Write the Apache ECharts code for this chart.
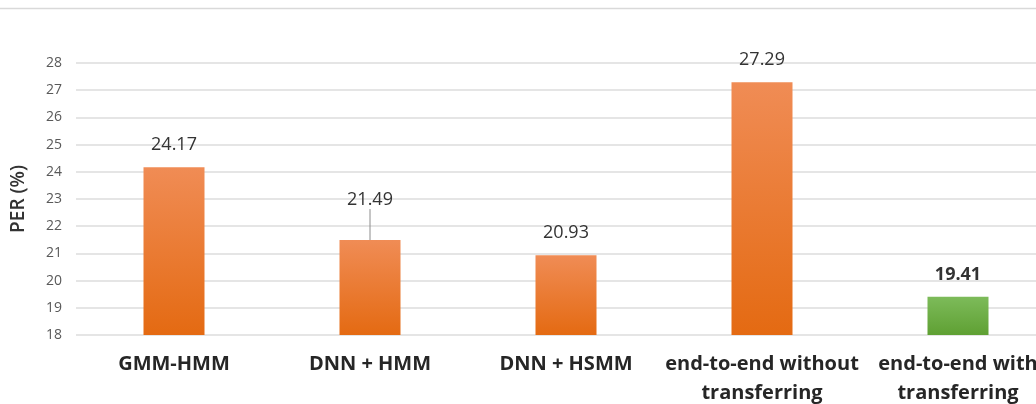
<!DOCTYPE html>
<html>
<head>
<meta charset="utf-8">
<script src="https://cdn.jsdelivr.net/npm/echarts@6/dist/echarts.min.js"></script>
<style>
  html, body { margin: 0; padding: 0; background: #fff; }
  #chart { width: 1036px; height: 404px; }
</style>
</head>
<body>
<div id="chart"></div>
<script>
const categories = ['GMM-HMM', 'DNN + HMM', 'DNN + HSMM', 'end-to-end without\ntransferring', 'end-to-end with\ntransferring'];
const perValues = [24.17, 21.49, 20.93, 27.29, 19.41];
const yTicks = { min: 18, max: 28, step: 1 };

const orange = new echarts.graphic.LinearGradient(0, 0, 0, 1, [
  { offset: 0, color: '#F08C55' },
  { offset: 1, color: '#E46A12' }
]);
const green = new echarts.graphic.LinearGradient(0, 0, 0, 1, [
  { offset: 0, color: '#7DBB5A' },
  { offset: 1, color: '#5FA033' }
]);

const el = document.getElementById('chart');
const chart = echarts.init(el);

chart.setOption({
  animation: false,
  textStyle: { fontFamily: '"Open Sans", sans-serif' },
  graphic: [{
    type: 'line',
    shape: { x1: 0, y1: 8.5, x2: 1036, y2: 8.5 },
    style: { stroke: '#D9D9D9', lineWidth: 1.5 }
  }],
  grid: { left: 76, top: 63, width: 980, height: 272, outerBoundsMode: 'none', containLabel: false },
  xAxis: {
    type: 'category',
    data: categories,
    axisLine: { show: false },
    axisTick: { show: false },
    axisLabel: {
      interval: 0,
      margin: 15,
      color: '#262626',
      fontSize: 20,
      fontWeight: 'bold',
      lineHeight: 29
    }
  },
  yAxis: {
    type: 'value',
    min: yTicks.min,
    max: yTicks.max,
    interval: yTicks.step,
    name: 'PER (%)',
    nameLocation: 'middle',
    nameGap: 48,
    nameTextStyle: { color: '#333333', fontSize: 19, fontWeight: 600 },
    axisLine: { show: false },
    axisTick: { show: false },
    axisLabel: { color: '#595959', fontSize: 14, margin: 14 },
    splitLine: { lineStyle: { color: '#DCDCDC', width: 1.5 } }
  },
  series: [{
    type: 'bar',
    barWidth: 61,
    data: perValues.map((v, i) => ({
      value: v,
      itemStyle: { color: i === perValues.length - 1 ? green : orange },
      labelLine: { show: i === 1 },
      label: i === perValues.length - 1 ? { fontWeight: 'bold' } : {}
    })),
    label: {
      show: true,
      position: 'top',
      distance: 13,
      color: '#333333',
      fontSize: 18,
      formatter: p => p.value.toFixed(2)
    },
    labelLine: { lineStyle: { color: '#8C8C8C', width: 1 } },
    labelLayout: p => p.dataIndex === 1 ? { dy: -18 } : {}
  }]
});
</script>
</body>
</html>
